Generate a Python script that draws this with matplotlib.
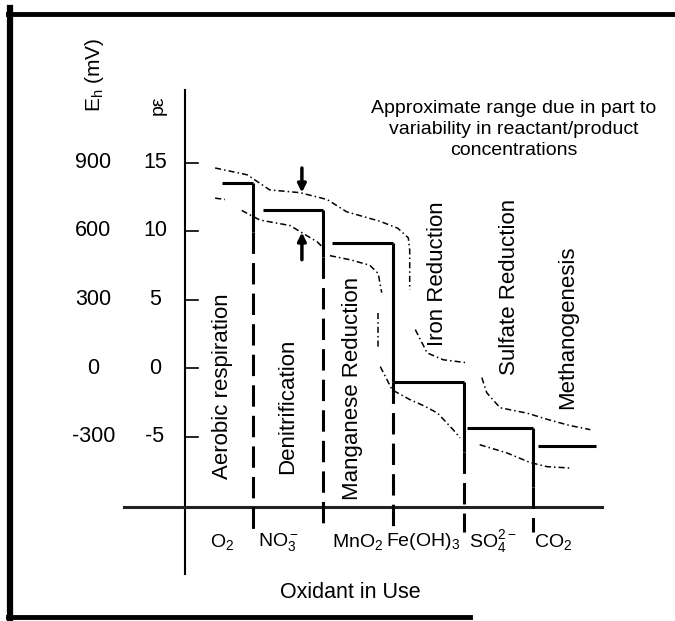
import numpy as np
import matplotlib
matplotlib.use("Agg")
import matplotlib.pyplot as plt
from matplotlib.lines import Line2D

plt.rcParams['font.family'] = ['Liberation Sans', 'DejaVu Sans']
plt.rcParams['mathtext.fontset'] = 'custom'
plt.rcParams['mathtext.rm'] = 'Liberation Sans'
plt.rcParams['mathtext.it'] = 'Liberation Sans'

# pe tick values and the matching Eh values (mV)
pe_ticks = [15, 10, 5, 0, -5]
eh_ticks = [900, 600, 300, 0, -300]

# redox zones (x in "zone" units, pe on y)
zones = ["Aerobic respiration", "Denitrification", "Manganese Reduction",
         "Iron Reduction", "Sulfate Reduction", "Methanogenesis"]
oxidants = [r"O$_2$", r"NO$_3^-$", r"MnO$_2$", r"Fe(OH)$_3$", r"SO$_4^{2-}$", r"CO$_2$"]
step_start = [0.53, 1.11, 2.10, 2.97, 4.03, 5.04]
step_end = [0.97, 1.97, 2.97, 3.98, 4.97, 5.87]
step_pe = [13.5, 11.55, 9.1, -1.0, -4.4, -5.7]
boundaries = [0.97, 1.97, 2.97, 3.98, 4.97]
solid_end = [9.9, 8.1, -1.0, -6.1, -8.7]
dash_end = -12.0

# label positions
zone_label_x = [0.53, 1.46, 2.39, 3.61, 4.64, 5.47]
zone_label_pe = [-1.3, -2.8, -1.5, 6.9, 5.9, 3.0]
oxidant_x = [0.53, 1.33, 2.46, 3.40, 4.39, 5.26]

# range envelopes (dotted), piecewise
upper = [
    ([0.43, 0.89, 1.21, 1.64, 2.03, 2.31, 2.79, 3.04, 3.19, 3.21, 3.21],
     [14.6, 14.1, 13.0, 12.8, 12.3, 11.4, 10.7, 10.2, 9.5, 8.6, 5.7]),
    ([3.29, 3.46, 3.69, 4.00], [2.8, 1.1, 0.6, 0.4]),
    ([4.24, 4.31, 4.50, 4.89, 5.21, 5.50, 5.79], [-0.7, -1.8, -2.9, -3.3, -3.8, -4.2, -4.5]),
]
lower = [
    ([0.43, 0.57], [12.4, 12.3]),
    ([0.81, 1.07, 1.50, 1.89, 1.97], [11.5, 10.8, 10.4, 9.2, 8.8]),
    ([2.07, 2.36, 2.64, 2.76, 2.81], [8.2, 7.9, 7.5, 6.9, 5.5]),
    ([2.76, 2.76], [4.0, 1.5]),
    ([2.79, 2.96, 3.21, 3.43, 3.61, 3.83, 3.93], [0.1, -1.6, -2.3, -2.8, -3.3, -4.5, -5.1]),
    ([4.21, 4.60, 4.93, 5.17, 5.50], [-5.6, -6.2, -6.9, -7.2, -7.3]),
]

fig = plt.figure(figsize=(6.75, 6.21), dpi=100)
ax = fig.add_axes([0, 0, 1, 1])
ax.set_xlim(-185 / 70, 490 / 70)
ax.set_ylim((368 - 621) / 13.7, 368 / 13.7)
ax.axis("off")

# outer frame (scan border)
fig.add_artist(Line2D([10 / 675, 10 / 675], [1 - 8 / 621, 1 - 619 / 621], color="k", lw=4.5))
fig.add_artist(Line2D([8 / 675, 1], [1 - 14 / 621, 1 - 14 / 621], color="k", lw=3.5))
fig.add_artist(Line2D([8 / 675, 470 / 675], [1 - 617 / 621, 1 - 617 / 621], color="k", lw=3.5))

# axes
ax.plot([0, 0], [20.3, -15.0], color="k", lw=1.5)
ax.plot([-0.87, 5.96], [-10.15, -10.15], color="#222222", lw=2.2)
for p, e in zip(pe_ticks, eh_ticks):
    ax.plot([0, 0.18], [p, p], color="k", lw=1.2)
    ax.text(-0.43, p, str(p), ha="center", va="center", fontsize=15.5)
    ax.text(-1.31, p, str(e), ha="center", va="center", fontsize=15.5)
ax.text(-1.29, 21.4, r"E$_\mathregular{h}$ (mV)", rotation=90, ha="center", va="center", fontsize=15)
ax.text(-0.39, 19.2, "p\u03b5", rotation=90, ha="center", va="center", fontsize=14)

# staircase
for i in range(len(zones)):
    ax.plot([step_start[i], step_end[i]], [step_pe[i], step_pe[i]], color="k", lw=2.2,
            solid_capstyle="butt")
for i, b in enumerate(boundaries):
    ax.plot([b, b], [step_pe[i], solid_end[i]], color="k", lw=2.2, solid_capstyle="butt")
    ax.plot([b, b], [solid_end[i], dash_end], color="k", lw=2.2, linestyle=(0, (7, 3)))

# envelopes
for xs, ys in upper + lower:
    ax.plot(xs, ys, color="k", lw=1.1, linestyle=(0, (4, 2, 1, 2)))

# arrows
ax.annotate("", xy=(1.67, 12.6), xytext=(1.67, 14.8),
            arrowprops=dict(arrowstyle="-|>", lw=2.5, color="k", mutation_scale=12))
ax.annotate("", xy=(1.67, 10.1), xytext=(1.67, 7.7),
            arrowprops=dict(arrowstyle="-|>", lw=2.5, color="k", mutation_scale=12))

# labels
for name, x, p in zip(zones, zone_label_x, zone_label_pe):
    ax.text(x, p, name, rotation=90, ha="center", va="center", fontsize=16)
for name, x in zip(oxidants, oxidant_x):
    ax.text(x, -12.7, name, ha="center", va="center", fontsize=14)
ax.text(2.36, -16.4, "Oxidant in Use", ha="center", va="center", fontsize=15.5)
ax.text(4.7, 17.4, "Approximate range due in part to\nvariability in reactant/product\nconcentrations",
        ha="center", va="center", fontsize=14, linespacing=1.3, multialignment="center")

fig.savefig("out.png", dpi=100)
